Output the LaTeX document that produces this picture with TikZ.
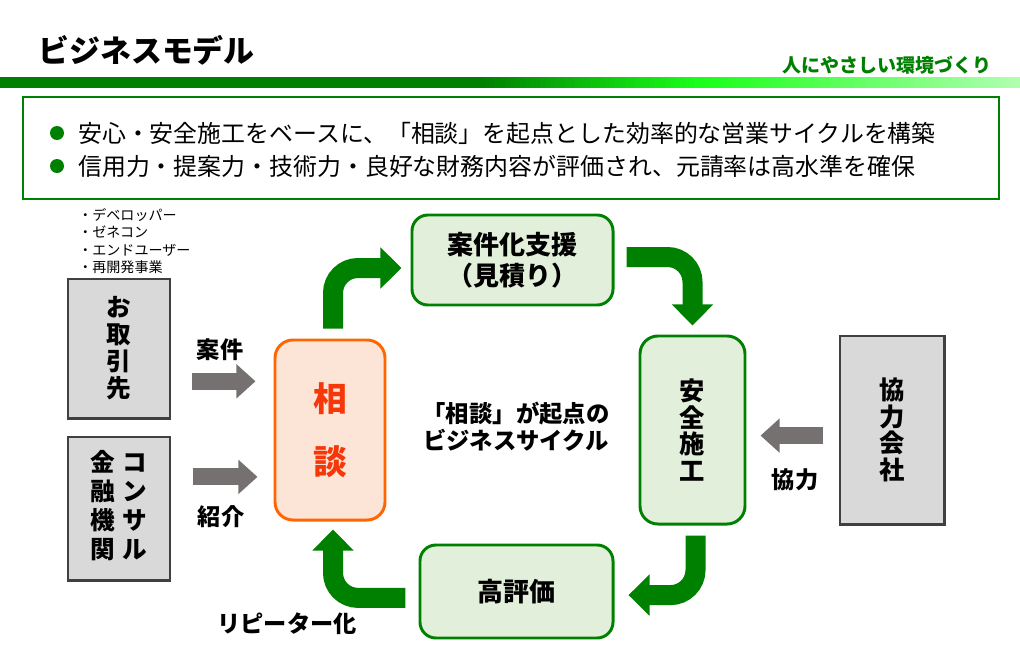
\documentclass[tikz,border=0pt]{standalone}
\usepackage{fontspec}
\setmainfont{Noto Sans CJK JP}
\usetikzlibrary{arrows.meta,positioning,calc}
\definecolor{vert}{RGB}{0,128,0}
\definecolor{vertclair}{RGB}{226,239,218}
\definecolor{vertvif}{RGB}{25,255,25}
\definecolor{vertpale}{RGB}{175,255,175}
\definecolor{gris}{RGB}{217,217,217}
\definecolor{grisfonce}{RGB}{64,64,64}
\definecolor{grisfleche}{RGB}{118,113,113}
\definecolor{orangebord}{RGB}{255,102,0}
\definecolor{peche}{RGB}{252,228,214}
\definecolor{rouge}{RGB}{245,55,10}

\begin{document}
\begin{tikzpicture}[x=0.025cm,y=-0.025cm]
%styles : boites grises, etapes vertes, fleches
\tikzset{boite/.style={draw=grisfonce,fill=gris,line width=2.1pt,minimum width=2.55cm,inner sep=0pt,align=center,font=\bfseries\fontsize{17.5}{19.2}\selectfont},
etape/.style={draw=vert,fill=vertclair,line width=2.1pt,rounded corners=0.4cm,inner sep=0pt,align=center,font=\bfseries\fontsize{18.5}{22}\selectfont},
fleche/.style={draw=vert,line width=0.5cm,rounded corners=0.625cm,-{Triangle[length=0.525cm,width=1cm]}},
pousse/.style={draw=grisfleche,line width=0.425cm,-{Triangle[length=0.475cm,width=0.825cm]}},
legende/.style={inner sep=0pt,font=\bfseries\fontsize{16.5}{19.2}\selectfont}}
\useasboundingbox (0,0) rectangle (1020,658);
%en-tete
\node[anchor=west,inner sep=0pt,font=\bfseries\fontsize{22}{26}\selectfont] (titre) at (38,50) {ビジネスモデル};
\node[anchor=east,inner sep=0pt,text=vert,font=\bfseries\fontsize{13.5}{16}\selectfont] (devise) at (992,65) {人にやさしい環境づくり};
%bande degradee
\fill[vert] (0,77) rectangle (481,88);
\foreach \i in {0,...,43} {\pgfmathsetmacro\p{\i*100/43}
  \fill[vertvif!\p!vert] ({480+5*\i},77) rectangle ({486+5*\i},88);}
\foreach \i in {0,...,63} {\pgfmathsetmacro\p{\i*100/63}
  \fill[vertpale!\p!vertvif] ({700+5*\i},77) rectangle ({706+5*\i},88);}
%cadre des deux points
\draw[vert,line width=2.1pt] (23,97) rectangle (999,199);
\fill[vert] (57,133) circle (0.175cm);
\fill[vert] (57,166) circle (0.175cm);
\node[anchor=west,inner sep=0pt,font=\fontsize{17}{20}\selectfont] (ligne1) at (78,133) {安心・安全施工をベースに、「相談」を起点とした効率的な営業サイクルを構築};
\node[anchor=west,inner sep=0pt,font=\fontsize{17}{20}\selectfont] (ligne2) at (78,166) {信用力・提案力・技術力・良好な財務内容が評価され、元請率は高水準を確保};
\node[anchor=west,inner sep=0pt,align=left,font=\fontsize{10}{12.4}\selectfont] (clients) at (78,241) {・デベロッパー\\・ゼネコン\\・エンドユーザー\\・再開発事業};
%boites
\node[boite,minimum height=3.475cm] (torihiki) at (119,348.5) {お\\取\\引\\先};
\node[boite,minimum height=3.575cm] (kinyu) at (119,508.5) {\begin{tabular}{@{}c@{\hspace{5pt}}c@{}}金&コ\\融&ン\\機&サ\\関&ル\end{tabular}};
\node[draw=orangebord,fill=peche,line width=2.1pt,rounded corners=0.45cm,minimum width=2.75cm,minimum height=4.5cm,align=center,text=rouge,font=\bfseries\fontsize{24}{44.8}\selectfont] (soudan) at (330,430) {相\\談};
\node[etape,minimum width=5.025cm,minimum height=2.25cm] (anken) at (512.5,260) {案件化支援\\（見積り）};
\node[etape,rounded corners=0.45cm,minimum width=2.625cm,minimum height=4.7cm,font=\bfseries\fontsize{18}{19}\selectfont] (sekou) at (692.5,430) {安\\全\\施\\工};
\node[boite,minimum width=2.6cm,minimum height=4.7cm,font=\bfseries\fontsize{18}{19}\selectfont] (kyoryoku) at (892,430) {協\\力\\会\\社};
\node[etape,minimum width=4.825cm,minimum height=2.325cm] (hyouka) at (516.5,591.5) {高評価};
\node[legende,align=center,font=\bfseries\fontsize{16.6}{19.2}\selectfont] (cycle) at (516,427) {「相談」が起点の\\ビジネスサイクル};
%cycle vert
\draw[fleche] ([xshift=0.075cm,yshift=0.25cm]soudan.north) |- ([xshift=-0.225cm,yshift=-0.2cm]anken.west);
\draw[fleche] ([xshift=0.3cm,yshift=0.075cm]anken.east) -| ([yshift=0.225cm]sekou.north);
\draw[fleche] ([xshift=0.075cm,yshift=-0.25cm]sekou.south) |- ([xshift=0.35cm,yshift=-0.09cm]hyouka.east);
\draw[fleche] ([xshift=-0.325cm,yshift=-0.16cm]hyouka.west) -| ([xshift=0.075cm,yshift=-0.2cm]soudan.south);
%fleches grises
\draw[pousse] ([xshift=0.525cm,yshift=-0.82cm]torihiki.east) -- ++(63,0);
\draw[pousse] ([xshift=0.55cm,yshift=0.79cm]kinyu.east) -- ++(64,0);
\draw[pousse] ([xshift=-0.4cm,yshift=-0.14cm]kyoryoku.west) -- ++(-62,0);
\node[legende] (lanken) at (220,350) {案件};
\node[legende] (lshokai) at (221,517) {紹介};
\node[legende] (lkyoryoku) at (795,480) {協力};
\node[legende] (lrepeat) at (287,624) {リピーター化};
\end{tikzpicture}
\end{document}
